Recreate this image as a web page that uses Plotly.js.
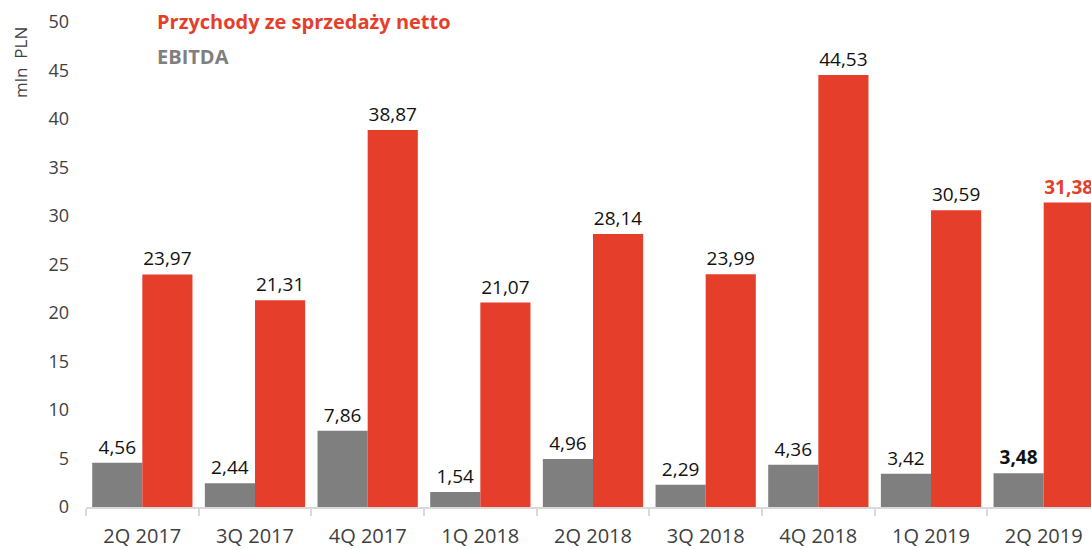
<!DOCTYPE html>
<html>
<head>
<meta charset="utf-8">
<script src="https://cdn.plot.ly/plotly-3.0.1.min.js"></script>
<style>html,body{margin:0;padding:0;background:#fff;overflow:hidden}#chart{width:1091px;height:549px}</style>
</head>
<body>
<div id="chart"></div>
<script>
const categories = ["2Q 2017","3Q 2017","4Q 2017","1Q 2018","2Q 2018","3Q 2018","4Q 2018","1Q 2019","2Q 2019"];
const ebitda = [4.56, 2.44, 7.86, 1.54, 4.96, 2.29, 4.36, 3.42, 3.48];
const revenue = [23.97, 21.31, 38.87, 21.07, 28.14, 23.99, 44.53, 30.59, 31.38];
const seriesNames = ["EBITDA", "Przychody ze sprzedaży netto"];
const yTicks = [0,5,10,15,20,25,30,35,40,45,50];

const RED = "#E53E2B", GRAY = "#7F7F7F";
const fmt = v => v.toFixed(2).replace('.', ',');
const last = categories.length - 1;

const ebitdaText = ebitda.map((v,i) => i === last ? "<b>" + fmt(v) + "</b>" : fmt(v));
const revText = revenue.map((v,i) => i === last ? "<b>" + fmt(v) + "</b>" : fmt(v));
const revTextColors = revenue.map((v,i) => i === last ? RED : "#111");

const FONT = "Open Sans, sans-serif";

const traces = [
  {type:"bar", name:seriesNames[0], x:categories, y:ebitda, marker:{color:GRAY},
   text:ebitdaText, textposition:"outside", cliponaxis:false, constraintext:"none",
   textfont:{family:FONT, size:19, color:"#111"}, hoverinfo:"none"},
  {type:"bar", name:seriesNames[1], x:categories, y:revenue, marker:{color:RED},
   text:revText, textposition:"outside", cliponaxis:false, constraintext:"none",
   textfont:{family:FONT, size:19, color:revTextColors}, hoverinfo:"none"}
];

const layout = {
  width:1091, height:549,
  margin:{l:86, r:0, t:22, b:42, pad:0},
  paper_bgcolor:"#fff", plot_bgcolor:"#fff",
  barmode:"group", bargap:0.11, bargroupgap:0,
  showlegend:false,
  font:{family:FONT, color:"#404040"},
  xaxis:{type:"category", range:[-0.5, 8.42], showgrid:false, zeroline:false,
    showline:true, linecolor:"#D9D9D9", linewidth:2,
    ticks:"outside", tickson:"boundaries", ticklen:7, tickcolor:"#D9D9D9", tickwidth:2,
    ticklabelstandoff:10,
    tickfont:{family:FONT, size:20, color:"#404040"}, fixedrange:true},
  yaxis:{range:[0,50], tickvals:yTicks, ticktext:yTicks.map(String), showgrid:false, zeroline:false,
    showline:false, ticks:"", ticklabelstandoff:16,
    tickfont:{family:FONT, size:18, color:"#404040"}, fixedrange:true},
  annotations:[
    {xref:"paper", yref:"paper", x:(155-86)/1005, y:1+ (22-21)/485, xanchor:"left", yanchor:"middle",
     text:"<b>"+seriesNames[1]+"</b>", showarrow:false, font:{family:FONT, size:20, color:RED}},
    {xref:"paper", yref:"paper", x:(155-86)/1005, y:1-(57-22)/485, xanchor:"left", yanchor:"middle",
     text:"<b>"+seriesNames[0]+"</b>", showarrow:false, font:{family:FONT, size:20, color:GRAY}},
    {xref:"paper", yref:"paper", x:(20-86)/1005, y:1-(63-22)/485, xanchor:"center", yanchor:"middle",
     text:"mln  PLN", textangle:-90, showarrow:false, font:{family:FONT, size:17, color:"#404040"}}
  ]
};

Plotly.newPlot("chart", traces, layout, {displayModeBar:false, staticPlot:true});
</script>
</body>
</html>
